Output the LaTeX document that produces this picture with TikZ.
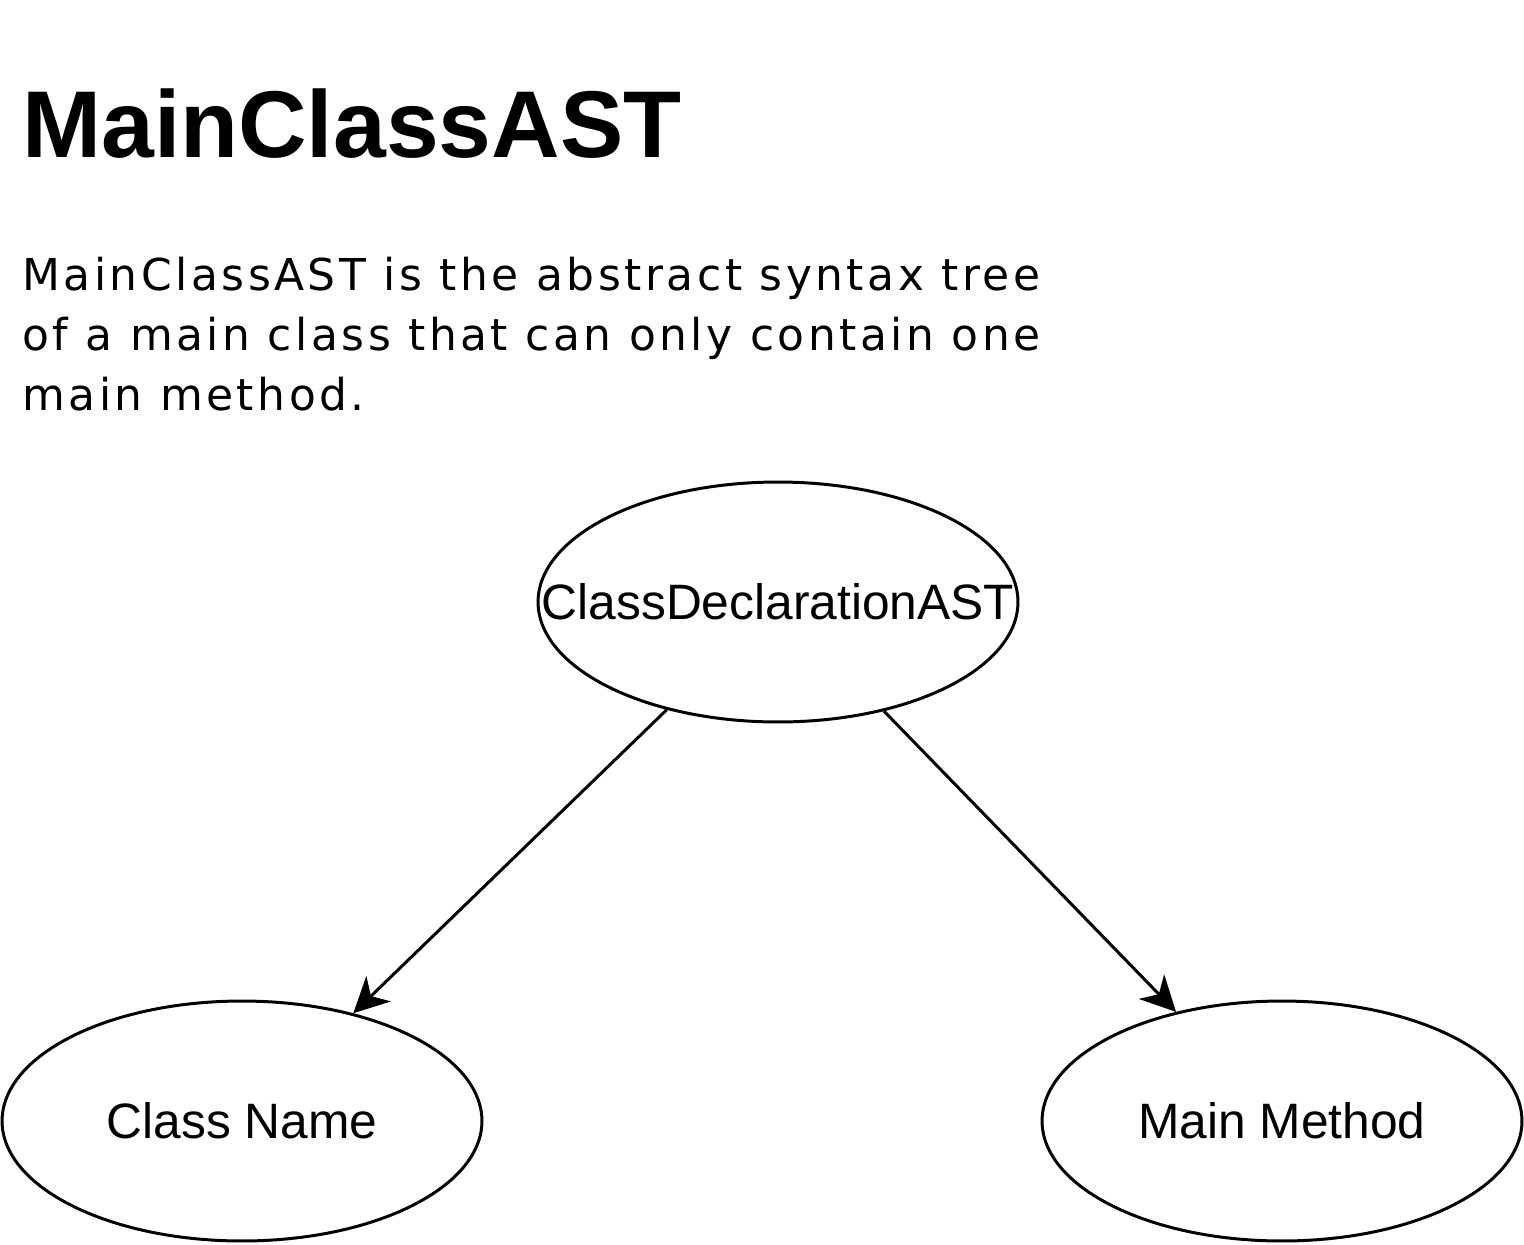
\documentclass[tikz,border=0pt]{standalone}
\usepackage{fontspec}
\setmainfont{Liberation Sans}
\newfontfamily\descfont[LetterSpace=8]{DejaVu Sans}
\usetikzlibrary{arrows.meta, positioning, shapes.geometric}

\begin{document}
\begin{tikzpicture}[
        x=0.02cm, y=-0.02cm,
        ast/.style={ellipse, draw, line width=1.7pt, minimum width=9.6cm,
                    minimum height=4.8cm, inner sep=0pt,
                    label={[font=\fontsize{28.3}{34}\selectfont]center:#1}},
        arrow/.style={-{Stealth[length=20pt, width=20pt, inset=6pt]}, line width=1.7pt},
    ]
    \useasboundingbox (0,0) rectangle (1524,1244);
    \node[anchor=base west, inner sep=0pt, font=\fontsize{54}{60}\selectfont\bfseries] (title) at (22,157) {MainClassAST};
    \node[anchor=base west, inner sep=0pt, align=left, font=\descfont\fontsize{25}{34.1}\selectfont] (desc) at (22,410) {MainClassAST is the abstract syntax tree\\of a main class that can only contain one\\main method.};

    \node[ast=ClassDeclarationAST] (decl) at (778,602) {};
    \node[ast=Class Name] (name) at (242,1121) {};
    \node[ast=Main Method] (method) at (1282,1121) {};

    \draw[arrow] (decl) -- (name);
    \draw[arrow] (decl) -- (method);
\end{tikzpicture}
\end{document}
